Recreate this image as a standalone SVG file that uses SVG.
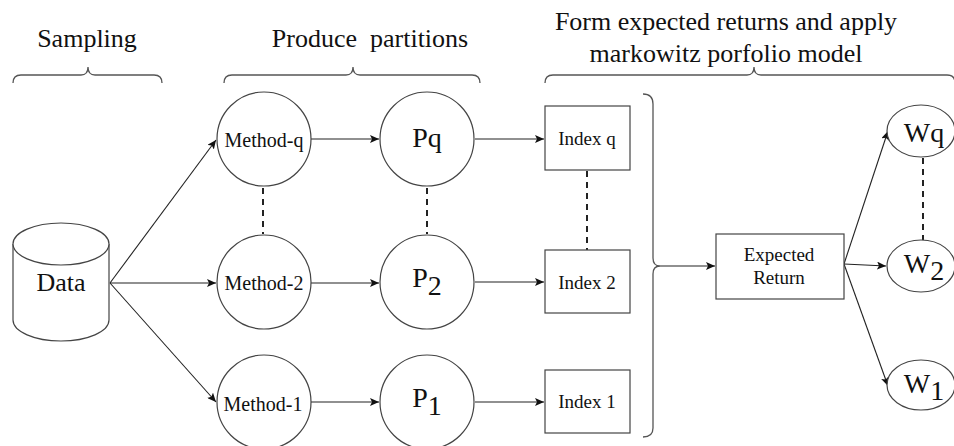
<svg xmlns="http://www.w3.org/2000/svg" width="954" height="446" viewBox="0 0 954 446">
<defs>
<marker id="ah" markerUnits="userSpaceOnUse" markerWidth="10" markerHeight="8" refX="9" refY="4" orient="auto">
<path d="M0,0 L9,4 L0,8 L2,4 Z" fill="#111"/>
</marker>
<style>
text{fill:#111;}
.h{font-size:26px;}
.shape{fill:#fff;stroke:#444;stroke-width:1.2;}
.brace{fill:none;stroke:#555;stroke-width:1.3;}
.a{fill:none;stroke:#222;stroke-width:1.1;marker-end:url(#ah);}
.d{fill:none;stroke:#222;stroke-width:2;stroke-dasharray:6,5;}
</style>
</defs>
<rect width="954" height="446" fill="#fff"/>

<g font-family="Liberation Serif, serif">
<g id="headers">
<text class="h" x="87" y="47" text-anchor="middle">Sampling</text>
<text class="h" x="370" y="47" text-anchor="middle" xml:space="preserve">Produce  partitions</text>
<text class="h" x="726" y="30" text-anchor="middle">Form expected returns and apply</text>
<text class="h" x="726" y="62" text-anchor="middle">markowitz porfolio model</text>
<path class="brace" d="M13,83 Q13,75 21,75 L81,75 Q88,75 88,67 Q88,75 95,75 L154,75 Q162,75 162,83"/>
<path class="brace" d="M224,83 Q224,75 232,75 L346,75 Q353,75 353,67 Q353,75 360,75 L472,75 Q480,75 480,83"/>
<path class="brace" d="M545,83 Q545,75 553,75 L747,75 Q754,75 754,67 Q754,75 761,75 L947,75 Q955,75 955,83"/>
<path class="brace" d="M643,94 Q653,94 653,104 L653,258 Q653,266 660,266 Q653,266 653,274 L653,428 Q653,437 643,437"/>
</g>

<g id="connectors">
<path class="a" d="M110,283 L216,140"/>
<path class="a" d="M110,283 L216,283"/>
<path class="a" d="M110,283 L216,402"/>
<path class="a" d="M311,139 L379,139"/>
<path class="a" d="M311,283 L379,283"/>
<path class="a" d="M311,402 L379,402"/>
<path class="a" d="M475,139 L544,139"/>
<path class="a" d="M475,282 L544,282"/>
<path class="a" d="M475,402 L544,402"/>
<path class="a" d="M660,266 L715,266"/>
<path class="a" d="M844,264 L888,131"/>
<path class="a" d="M844,264 L886,266"/>
<path class="a" d="M844,264 L888,386"/>
<path class="d" d="M263,188 L263,234"/>
<path class="d" d="M427,188 L427,234"/>
<path class="d" d="M587,171 L587,250"/>
<path class="d" d="M923,158 L923,240"/>
</g>

<g id="data">
<path class="shape" d="M13,244 L13,320 A48,21 0 0 0 109,320 L109,244"/>
<ellipse class="shape" cx="61" cy="244" rx="48" ry="21"/>
<text x="61" y="291" font-size="26" text-anchor="middle">Data</text>
</g>

<g id="method-q">
<circle class="shape" cx="264" cy="139" r="47"/>
<text x="264" y="147" font-size="20" text-anchor="middle">Method-q</text>
</g>
<g id="method-2">
<circle class="shape" cx="264" cy="282" r="47"/>
<text x="264" y="290" font-size="20" text-anchor="middle">Method-2</text>
</g>
<g id="method-1">
<circle class="shape" cx="264" cy="402" r="47"/>
<text x="263" y="411" font-size="20" text-anchor="middle">Method-1</text>
</g>

<g id="p-q">
<circle class="shape" cx="427" cy="139" r="47"/>
<text x="427" y="147" font-size="28" text-anchor="middle">Pq</text>
</g>
<g id="p-2">
<circle class="shape" cx="427" cy="282" r="47"/>
<text x="427" y="287" font-size="28" text-anchor="middle">P<tspan dy="8">2</tspan></text>
</g>
<g id="p-1">
<circle class="shape" cx="427" cy="402" r="47"/>
<text x="427" y="407" font-size="28" text-anchor="middle">P<tspan dy="8">1</tspan></text>
</g>

<g id="index-q">
<rect class="shape" x="545" y="106" width="85" height="64"/>
<text x="587" y="145" font-size="19" text-anchor="middle">Index q</text>
</g>
<g id="index-2">
<rect class="shape" x="545" y="250" width="85" height="63"/>
<text x="587" y="289" font-size="19" text-anchor="middle">Index 2</text>
</g>
<g id="index-1">
<rect class="shape" x="545" y="370" width="85" height="63"/>
<text x="587" y="408" font-size="19" text-anchor="middle">Index 1</text>
</g>

<g id="expected-return">
<rect class="shape" x="716" y="234" width="128" height="65"/>
<text x="779" y="261" font-size="19" text-anchor="middle">Expected</text>
<text x="779" y="284" font-size="19" text-anchor="middle">Return</text>
</g>

<g id="w-q">
<ellipse class="shape" cx="921" cy="131" rx="34" ry="26"/>
<text x="924" y="142" font-size="28" text-anchor="middle">Wq</text>
</g>
<g id="w-2">
<ellipse class="shape" cx="921" cy="266" rx="34" ry="26"/>
<text x="924" y="273" font-size="28" text-anchor="middle">W<tspan dy="7">2</tspan></text>
</g>
<g id="w-1">
<ellipse class="shape" cx="921" cy="385" rx="34" ry="25"/>
<text x="924" y="393" font-size="28" text-anchor="middle">W<tspan dy="7">1</tspan></text>
</g>
</g>
</svg>
